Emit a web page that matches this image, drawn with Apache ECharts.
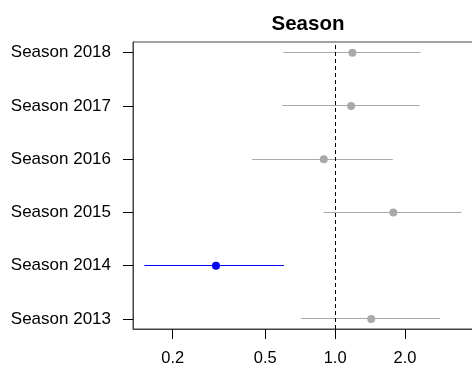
<!DOCTYPE html>
<html>
<head>
<meta charset="utf-8">
<script src="https://cdn.jsdelivr.net/npm/echarts@6/dist/echarts.min.js"></script>
<style>html,body{margin:0;padding:0;background:#fff;overflow:hidden}#c{width:472px;height:368px}</style>
</head>
<body>
<div id="c"></div>
<script>
const seasons = ['Season 2013', 'Season 2014', 'Season 2015', 'Season 2016', 'Season 2017', 'Season 2018'];
const estimates = [1.43, 0.307, 1.78, 0.894, 1.172, 1.187];
const lower = [0.714, 0.151, 0.891, 0.440, 0.592, 0.598];
const upper = [2.83, 0.602, 3.50, 1.77, 2.31, 2.335];
const significant = [false, true, false, false, false, false];
const xTicks = [0.2, 0.5, 1.0, 2.0];
const refValue = 1;

const GRAY = '#a9a9a9', BLUE = '#0000ff';
const FONT = 'Arial, "Liberation Sans", sans-serif';
const rowPos = seasons.map((s, i) => i + 1);

const ciData = seasons.map((s, i) => ({
  value: [lower[i], upper[i], rowPos[i]],
  itemStyle: { color: significant[i] ? BLUE : GRAY }
}));
const ptData = seasons.map((s, i) => ({
  value: [estimates[i], rowPos[i]],
  itemStyle: { color: significant[i] ? BLUE : GRAY, opacity: 1 }
}));

const chart = echarts.init(document.getElementById('c'), null, { renderer: 'canvas' });
chart.setOption({
  animation: false,
  title: {
    text: 'Season', left: 303, top: 9, textAlign: 'center',
    textStyle: { fontFamily: FONT, fontSize: 20.5, fontWeight: 'bold', color: '#000' }
  },
  grid: {
    left: 133, top: 42, width: 345, height: 287,
    outerBoundsMode: 'none', containLabel: false,
    show: true, borderColor: '#444', borderWidth: 1
  },
  xAxis: {
    type: 'log', logBase: 10, min: 0.1349, max: 4.12,
    axisLine: { show: true, lineStyle: { color: '#444' } },
    axisTick: { show: true, length: 10, customValues: xTicks, lineStyle: { color: '#000' } },
    axisLabel: {
      customValues: xTicks, margin: 21, fontFamily: FONT, fontSize: 16.5, color: '#000',
      formatter: v => Number(v).toFixed(1)
    },
    splitLine: { show: false }, minorTick: { show: false }
  },
  yAxis: {
    type: 'value', min: 0.81, max: 6.2,
    axisLine: { show: true, lineStyle: { color: '#444' } },
    axisTick: { show: true, length: 10, customValues: rowPos, lineStyle: { color: '#000' } },
    axisLabel: {
      customValues: rowPos, margin: 22, fontFamily: FONT, fontSize: 17, color: '#000',
      formatter: v => seasons[Math.round(v) - 1]
    },
    splitLine: { show: false }
  },
  series: [
    {
      type: 'custom',
      data: ciData,
      encode: { x: [0, 1], y: 2 },
      renderItem: (params, api) => {
        const a = api.coord([api.value(0), api.value(2)]);
        const b = api.coord([api.value(1), api.value(2)]);
        const y = Math.floor(a[1]) + 0.5;
        return {
          type: 'line',
          shape: { x1: a[0], y1: y, x2: b[0], y2: y },
          style: { stroke: api.visual('color'), lineWidth: 1 }
        };
      },
      silent: true
    },
    {
      type: 'scatter',
      data: ptData,
      symbol: 'circle', symbolSize: 8,
      silent: true,
      z: 3,
      markLine: {
        silent: true, symbol: 'none', animation: false,
        label: { show: false },
        lineStyle: { color: '#000', type: [4, 3], width: 1 },
        data: [{ xAxis: refValue }]
      }
    }
  ]
});
</script>
</body>
</html>
